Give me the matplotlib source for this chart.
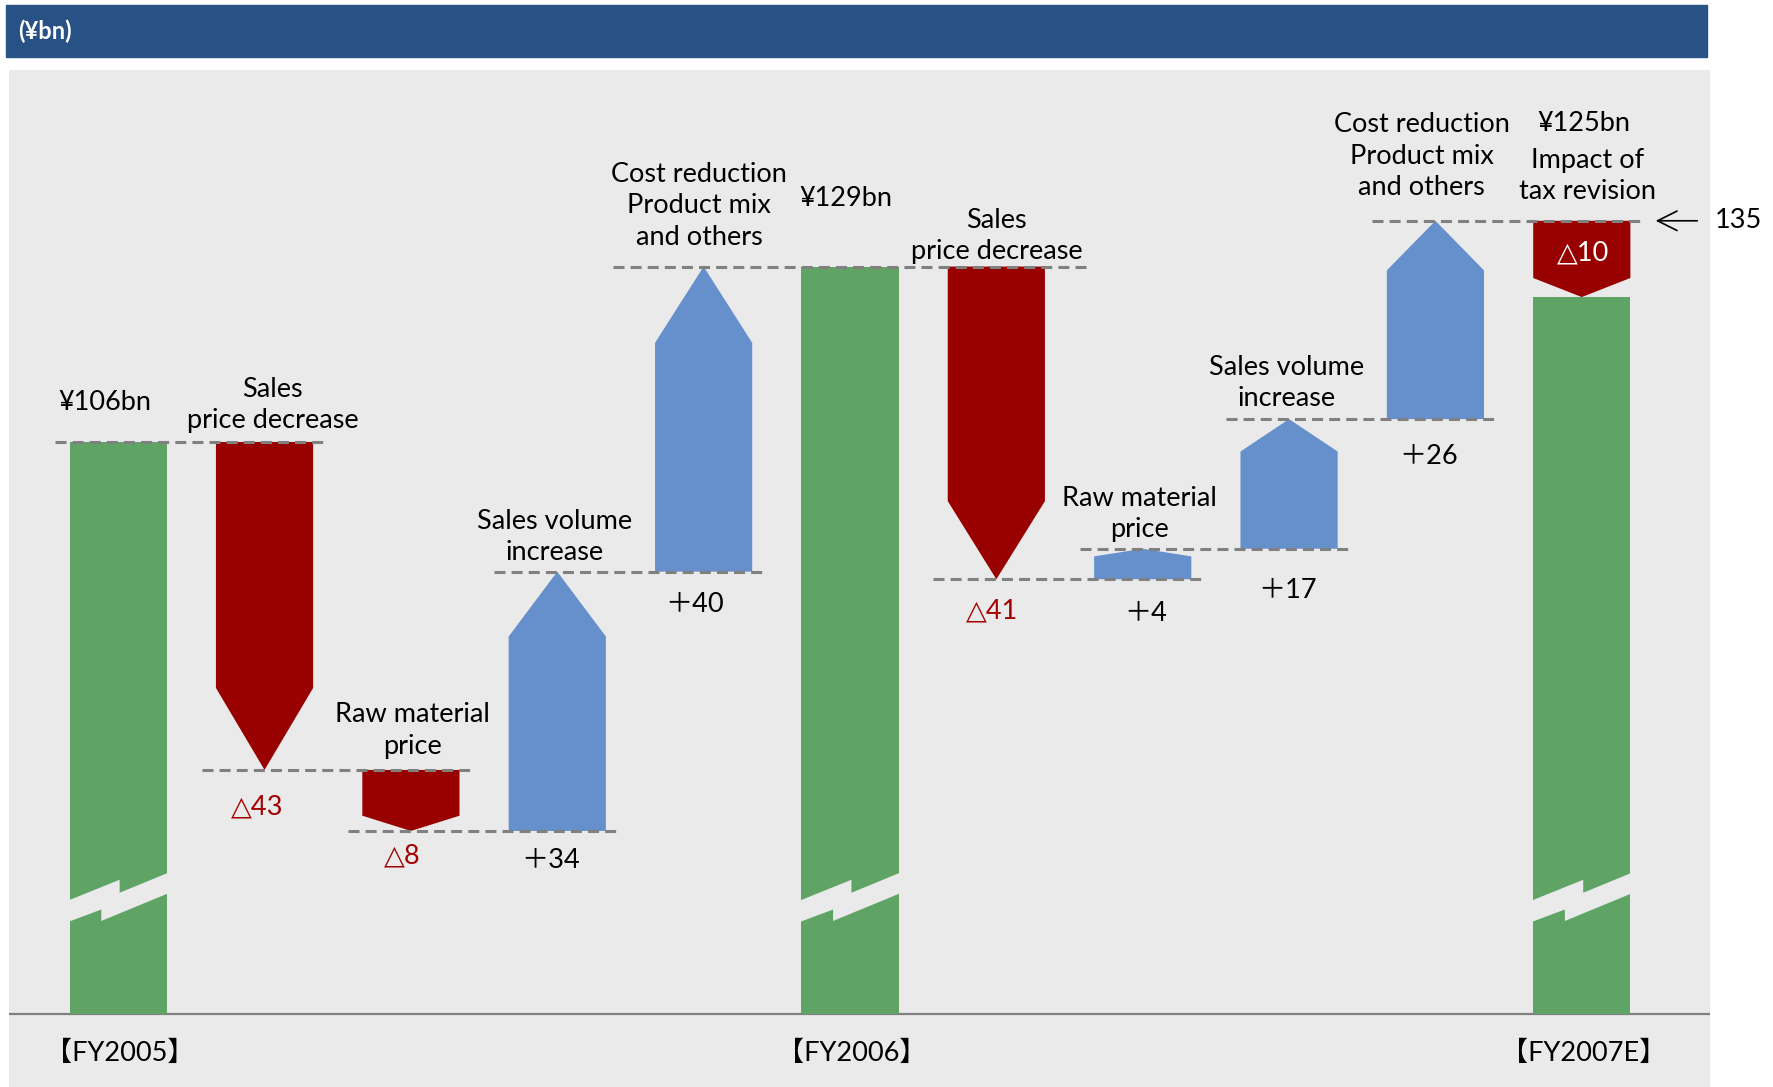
import matplotlib.pyplot as plt
from matplotlib.patches import Polygon, Rectangle

plt.rcParams['font.family'] = ['Lato', 'DejaVu Sans', 'Noto Sans CJK JP']

GREEN = '#60A465'
RED = '#990000'
BLUE = '#6690CC'
PANEL = '#EAEAEA'
HEADER = '#285185'
GREY = '#808080'
LABEL_RED = '#A50000'
FS = 19.5

# operating income bridge (¥bn)
totals = [106, 129, 125]
total_labels = ['¥106bn', '¥129bn', '¥125bn']
period_labels = ['【FY2005】', '【FY2006】', '【FY2007E】']
step_names = ['Sales\nprice decrease', 'Raw material\nprice',
              'Sales volume\nincrease', 'Cost reduction\nProduct mix\nand others']
steps_fy06 = [-43, -8, 34, 40]
steps_fy07 = [-41, 4, 17, 26]
tax_revision = -10
tax_name = 'Impact of\ntax revision'
axis_floor = 31  # axis is broken, totals start here

# label nudges in points
name_offsets = [(6, 6.5), (1, 8), (-1.6, 4.7), (-3.3, 12),
                (0, 1.5), (-2.4, 4.7), (-1.6, 5.5), (-9.8, 15), (4, 12)]
value_offsets = [(-5.3, -26.6), (-6, -18), (-4.9, -21), (-6.5, -24),
                 (-3.2, -23), (2.4, -25), (-1.4, -30), (-5, -26.6)]
total_offsets = [(-9.4, 19.4), (-3.3, 40), (1.6, 61)]

x_totals = [0, 5, 10]
steps = []  # (x, start, end, name)
level = totals[0]
for i, (v, name) in enumerate(zip(steps_fy06, step_names)):
    steps.append((1 + i, level, level + v, name))
    level += v
for i, (v, name) in enumerate(zip(steps_fy07, step_names)):
    steps.append((6 + i, level, level + v, name))
    level += v
steps.append((10, level, level + tax_revision, tax_name))

W = 0.664
TIP = 0.25

fig = plt.figure(figsize=(17.73, 10.87), dpi=100)
fig.patches.append(Rectangle((6 / 1773, 1 - 57 / 1087), 1701 / 1773, 52 / 1087,
                             transform=fig.transFigure, color=HEADER, zorder=0))
fig.text(18 / 1773, 1 - 31 / 1087, '(¥bn)', color='white', fontsize=17,
         fontweight='bold', va='center', ha='left')

ax = fig.add_axes([9 / 1773, 0, 1701 / 1773, 1017 / 1087])
ax.set_facecolor(PANEL)
ax.set_xlim(-0.746, 10.876)
ax.set_ylim(21.43, 154.77)
for s in ax.spines.values():
    s.set_visible(False)
ax.set_xticks([])
ax.set_yticks([])

ax.axhline(axis_floor, color=GREY, lw=1.6, zorder=1)

# totals with a break mark near the floor
ax.bar(x_totals, [t - axis_floor for t in totals], bottom=axis_floor,
       width=W, color=GREEN, zorder=2)
gap = [(0, 45.8), (0.514, 48.6), (0.514, 46.9), (1, 49.6),
       (1, 46.9), (0.336, 43.2), (0.336, 44.7), (0, 43.0)]
for x in x_totals:
    pts = [(x - W / 2 + (fx - 0.5) * 0.04 + fx * W, fy) for fx, fy in gap]
    ax.add_patch(Polygon(pts, closed=True, color=PANEL, lw=0, zorder=3))

# step arrows
for x, s, e, _ in steps:
    shoulder = e - TIP * (e - s)
    pts = [(x - W / 2, s), (x + W / 2, s), (x + W / 2, shoulder),
           (x, e), (x - W / 2, shoulder)]
    ax.add_patch(Polygon(pts, closed=True, color=BLUE if e > s else RED,
                         lw=0, zorder=2))

# dashed connectors: level leaving each position, joined when equal
leave = {0: totals[0], 5: totals[1]}
for x, s, e, _ in steps:
    if x != 10:
        leave[x] = e
xs = sorted(leave)
segments = []
for x0, x1 in zip(xs[:-1], xs[1:]):
    y = leave[x0]
    if segments and segments[-1][2] == y and segments[-1][1] == x0:
        segments[-1][1] = x1
    else:
        segments.append([x0, x1, y])
segments.append([xs[-1], 10, leave[xs[-1]]])
for x0, x1, y in segments:
    pad = 0.43 if x1 - x0 == 1 else 0.62
    ax.plot([x0 - pad, x1 + pad], [y, y], color=GREY, lw=2.2,
            ls=(0, (3.6, 2.0)), zorder=4)

# step names above, values below
for (x, s, e, name), (dx, dy) in zip(steps, name_offsets):
    ax.annotate(name, (x, max(s, e)), xytext=(dx, dy), textcoords='offset points',
                ha='center', va='bottom', fontsize=FS, linespacing=1.32, zorder=5)
for (x, s, e, _), (dx, dy) in zip(steps[:-1], value_offsets):
    v = e - s
    txt = ('△%d' % -v) if v < 0 else ('＋%d' % v)
    ax.annotate(txt, (x, min(s, e)), xytext=(dx, dy), textcoords='offset points',
                ha='center', va='center', fontsize=FS,
                color=LABEL_RED if v < 0 else 'black', zorder=5)
x, s, e, _ = steps[-1]
ax.annotate('△%d' % (s - e), (x, s), xytext=(1, -23), textcoords='offset points',
            ha='center', va='center', fontsize=FS, color='white', zorder=5)

# totals
for x, t, lab, (dx, dy) in zip(x_totals, totals, total_labels, total_offsets):
    top = steps[-1][1] if x == 10 else t
    ax.annotate(lab, (x, top), xytext=(dx, dy), textcoords='offset points',
                ha='center', va='bottom', fontsize=FS, zorder=5)
for x, lab in zip(x_totals, period_labels):
    ax.annotate(lab, (x, axis_floor), xytext=(1.2, -28.3), textcoords='offset points',
                ha='center', va='center', fontsize=FS, zorder=5)

# peak marker on the right
peak = steps[-1][1]
ax.annotate('', xy=(10.486, peak), xytext=(10.808, peak),
            arrowprops=dict(arrowstyle='->,head_length=0.7,head_width=0.35',
                            lw=1.2, color='black', mutation_scale=20),
            annotation_clip=False)
ax.text(10.91, peak, '%d' % peak, fontsize=FS, ha='left', va='center',
        clip_on=False)

fig.savefig('out.png', dpi=100)
